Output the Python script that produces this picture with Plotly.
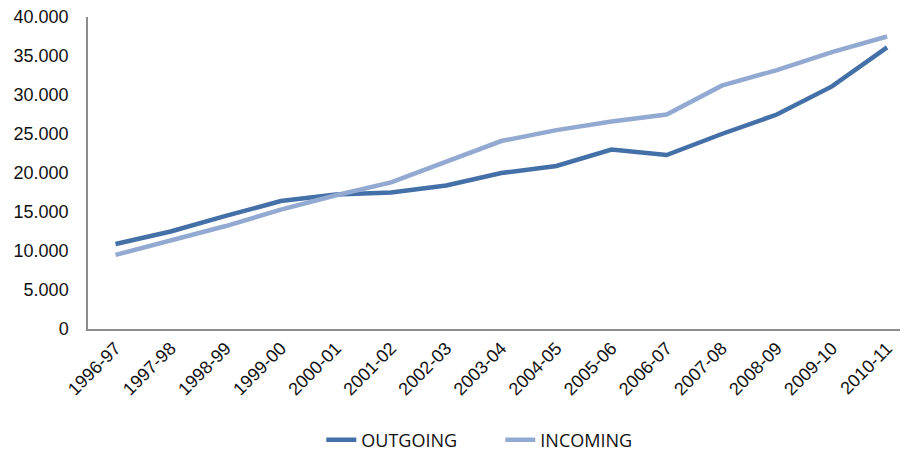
import plotly.graph_objects as go

years = ["1996-97", "1997-98", "1998-99", "1999-00", "2000-01", "2001-02", "2002-03",
         "2003-04", "2004-05", "2005-06", "2006-07", "2007-08", "2008-09", "2009-10", "2010-11"]
outgoing = [10900, 12500, 14500, 16400, 17250, 17500, 18400, 20000, 20900, 23000, 22300,
            25000, 27500, 31100, 36100]
incoming = [9500, 11300, 13200, 15300, 17150, 18800, 21400, 24100, 25500, 26600, 27500,
            31200, 33200, 35500, 37500]

fig = go.Figure()
fig.add_trace(go.Scatter(x=years, y=outgoing, name="OUTGOING", mode="lines",
                         line=dict(color="#4470A8", width=4.5)))
fig.add_trace(go.Scatter(x=years, y=incoming, name="INCOMING", mode="lines",
                         line=dict(color="#92A9D1", width=4.5)))

fig.update_layout(
    width=900, height=446,
    margin=dict(l=80, r=0, t=9, b=125, autoexpand=False),
    paper_bgcolor="white", plot_bgcolor="white",
    separators=",.",
    showlegend=True,
    legend=dict(orientation="h", xref="container", yref="container",
                x=0.547, xanchor="center", y=0.031, yanchor="middle",
                font=dict(family="Open Sans", size=18, color="#111111"),
                itemwidth=30, tracegroupgap=0, entrywidth=134),
    xaxis=dict(type="category", range=[-0.5, 14.38], showline=True, linecolor="#8c8c8c",
               linewidth=1.5, showgrid=False, ticks="", tickangle=-45,
               ticklabeloverflow="allow",
               tickfont=dict(family="Liberation Sans", size=18, color="#111111")),
    yaxis=dict(range=[0, 40000], dtick=5000, tickformat=",d", showline=True,
               linecolor="#8c8c8c", linewidth=1.5, showgrid=False, ticks="",
               zeroline=False, ticklabelstandoff=14, ticklabeloverflow="allow",
               tickfont=dict(family="Liberation Sans", size=18, color="#111111")),
)

fig.write_html("out.html")
